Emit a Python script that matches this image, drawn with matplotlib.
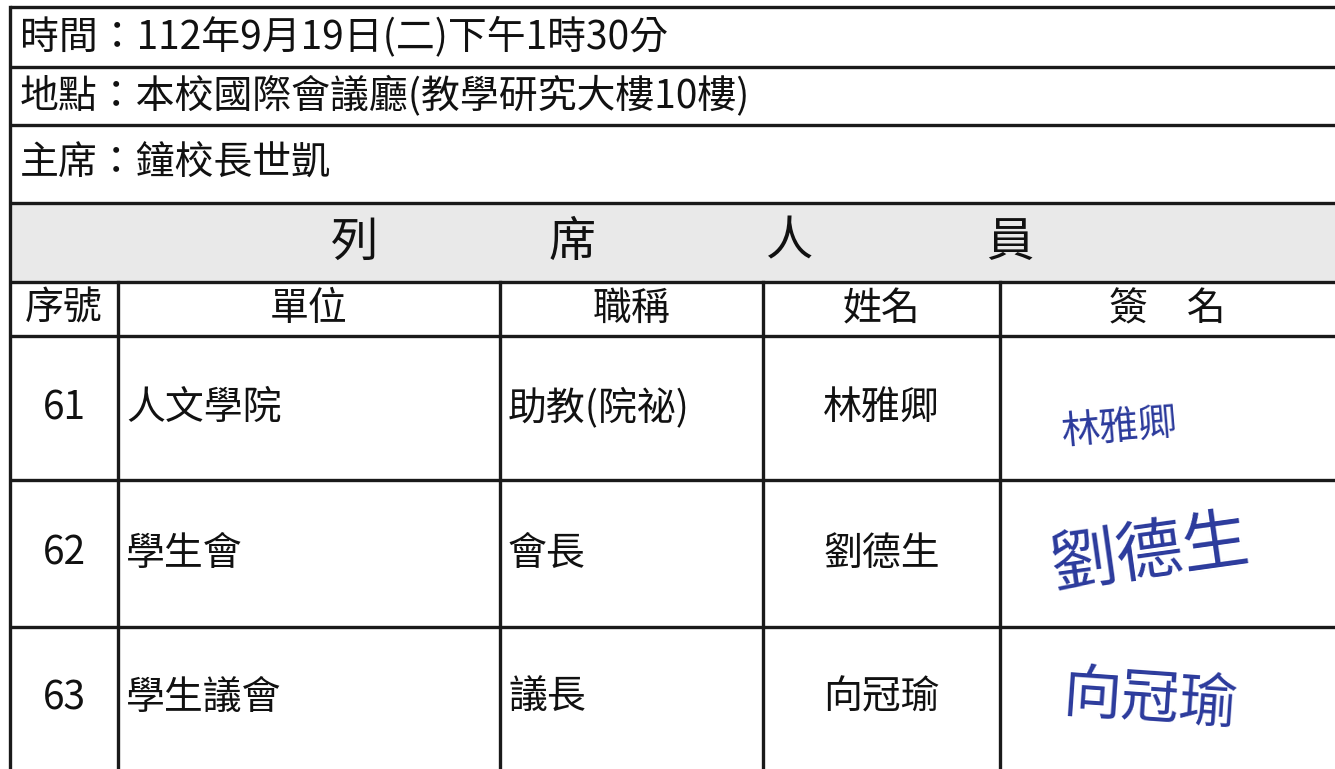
import matplotlib.pyplot as plt
from matplotlib.patches import Rectangle

plt.rcParams['font.family'] = ['Noto Sans CJK TC', 'DejaVu Sans']

# text content of the sign-in sheet
info_lines = ['時間：112年9月19日(二)下午1時30分',
              '地點：本校國際會議廳(教學研究大樓10樓)',
              '主席：鐘校長世凱']
banner = ['列', '席', '人', '員']
col_headers = ['序號', '單位', '職稱', '姓名', '簽　名']
seq = ['61', '62', '63']
units = ['人文學院', '學生會', '學生議會']
titles = ['助教(院祕)', '會長', '議長']
names = ['林雅卿', '劉德生', '向冠瑜']
signatures = ['林雅卿', '劉德生', '向冠瑜']

W, H = 1335, 769
fig = plt.figure(figsize=(W / 100, H / 100), dpi=100)
ax = fig.add_axes([0, 0, 1, 1])
ax.set_xlim(0, W)
ax.set_ylim(H, 0)
ax.axis('off')

# layout in pixel units
left = 10
row_y = [7, 67, 125, 203, 282, 336, 480, 627, H]
col_x = [left, 118, 500, 763, 1000, W]
lc = '#1a1a1a'
lw = 2.4
tc = '#111111'

# gray banner band
ax.add_patch(Rectangle((left, row_y[3]), W - left, row_y[4] - row_y[3],
                       facecolor='#e9e9e9', edgecolor='none', zorder=0))

for y in row_y[:-1]:
    ax.plot([left, W], [y, y], color=lc, lw=lw, solid_capstyle='butt')
ax.plot([left, left], [row_y[0], H], color=lc, lw=lw)
for x in col_x[1:-1]:
    ax.plot([x, x], [row_y[4], H], color=lc, lw=lw)

fs = 28
for i, t in enumerate(info_lines):
    yc = (row_y[i] + row_y[i + 1]) / 2
    ax.text(20, yc, t, fontsize=fs, va='center', ha='left', color=tc,
            fontweight='light')

banner_x = [355, 572, 790, 1010]
for x, t in zip(banner_x, banner):
    ax.text(x, (row_y[3] + row_y[4]) / 2, t, fontsize=34, fontweight='medium',
            ha='center', va='center', color=tc)

hy = (row_y[4] + row_y[5]) / 2
for i, t in enumerate(col_headers):
    xc = (col_x[i] + col_x[i + 1]) / 2
    ax.text(xc, hy, t, fontsize=fs, ha='center', va='center', color=tc,
            fontweight='light')

for r in range(len(seq)):
    yc = (row_y[5 + r] + row_y[6 + r]) / 2
    ax.text((col_x[0] + col_x[1]) / 2, yc, seq[r], fontsize=fs,
            ha='center', va='center', color=tc, fontweight='light')
    ax.text(col_x[1] + 8, yc, units[r], fontsize=fs,
            ha='left', va='center', color=tc, fontweight='light')
    ax.text(col_x[2] + 8, yc, titles[r], fontsize=fs,
            ha='left', va='center', color=tc, fontweight='light')
    ax.text((col_x[3] + col_x[4]) / 2, yc, names[r], fontsize=fs,
            ha='center', va='center', color=tc, fontweight='light')

# handwritten signatures, approximated with blue text
sig_pos = [(1120, 428, 28, 5), (1150, 555, 48, 8), (1150, 700, 42, -4)]
for (x, y, s, rot), t in zip(sig_pos, signatures):
    ax.text(x, y, t, fontsize=s, ha='center', va='center', color='#2b3a9c',
            fontweight='light', rotation=rot, style='italic')

fig.savefig('out.png', dpi=100)
